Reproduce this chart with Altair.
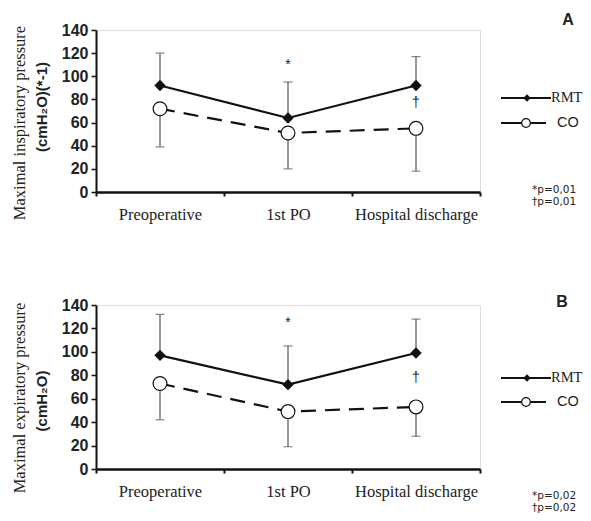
import altair as alt
import pandas as pd

categories = ["Preoperative", "1st PO", "Hospital discharge"]

a_rmt_mean = [92, 64, 92]
a_rmt_upper = [120, 95, 117]
a_co_mean = [72, 51, 55]
a_co_lower = [39, 20, 18]
a_star_y = 110
a_dagger_y = 77
a_title = ["Maximal inspiratory pressure", "(cmH\u2082O)(*-1)"]
a_pvals = ["*p=0,01", "\u2020p=0,01"]

b_rmt_mean = [97, 72, 99]
b_rmt_upper = [132, 105, 128]
b_co_mean = [73, 49, 53]
b_co_lower = [42, 19, 28]
b_star_y = 125
b_dagger_y = 78
b_title = ["Maximal expiratory pressure", "(cmH\u2082O)"]
b_pvals = ["*p=0,02", "\u2020p=0,02"]

y_ticks = [0, 20, 40, 60, 80, 100, 120, 140]

W = 384
SERIF = "Liberation Serif"
SANS = "Liberation Sans"


def panel(rmt_mean, rmt_upper, co_mean, co_lower, star_y, dagger_y, title, pvals, letter, geo, H):
    df = pd.DataFrame({
        "cat": categories,
        "rmt": rmt_mean, "rmt_hi": rmt_upper,
        "co": co_mean, "co_lo": co_lower,
    })
    one = pd.DataFrame({"k": [0]})
    x = alt.X("cat:N", sort=categories, title=None,
              scale=alt.Scale(paddingInner=0, paddingOuter=0),
              axis=alt.Axis(labelAngle=0, labelFont=SERIF, labelFontSize=16.5,
                            labelColor="#222", labelPadding=10, ticks=True,
                            tickBand="extent",
                            domainColor="#111", domainWidth=2.5, tickColor="#111",
                            tickWidth=2, tickSize=4, labelLimit=300))
    yscale = alt.Scale(domain=[0, 140], nice=False)
    yaxis = alt.Axis(values=y_ticks, title=None, grid=False,
                     labelOverlap=False, tickCount=8,
                     labelFont=SANS, labelFontWeight="bold", labelFontSize=16,
                     labelColor="#222", labelPadding=3, domainColor="#111",
                     domainWidth=2, tickColor="#111", tickWidth=1.5, tickSize=5)

    def Y(f):
        return alt.Y(f, scale=yscale, axis=yaxis)

    base = alt.Chart(df)
    err_rmt = base.mark_rule(color="#555", strokeWidth=1.2).encode(
        x=x, y=Y("rmt:Q"), y2="rmt_hi:Q")
    cap_rmt = base.mark_tick(color="#555", thickness=1.2, size=9).encode(
        x=x, y=Y("rmt_hi:Q"))
    err_co = base.mark_rule(color="#555", strokeWidth=1.2).encode(
        x=x, y=Y("co:Q"), y2="co_lo:Q")
    cap_co = base.mark_tick(color="#555", thickness=1.2, size=9).encode(
        x=x, y=Y("co_lo:Q"))
    line_co = base.mark_line(color="#111", strokeWidth=2.2, strokeDash=[15, 9]).encode(
        x=x, y=Y("co:Q"))
    pt_co = base.mark_point(shape="circle", filled=True, fill="white", stroke="#111",
                            strokeWidth=1.2, size=190, opacity=1).encode(
        x=x, y=Y("co:Q"))
    line_rmt = base.mark_line(color="#111", strokeWidth=2.2).encode(
        x=x, y=Y("rmt:Q"))
    pt_rmt = base.mark_point(shape="diamond", filled=True, color="#111",
                             size=130, opacity=1).encode(
        x=x, y=Y("rmt:Q"))
    marks_df = pd.DataFrame({"cat": [categories[1], categories[2]],
                             "v": [star_y, dagger_y], "s": ["*", "\u2020"]})
    sig = alt.Chart(marks_df).mark_text(font=SANS, fontSize=14, color="#222").encode(
        x=x, y=Y("v:Q"), text="s:N")

    ly_r, ly_c = geo["ly_r"], geo["ly_c"]
    o = alt.Chart(one)
    leg = [
        o.mark_rule(color="#111", strokeWidth=2).encode(
            x=alt.value(405), x2=alt.value(455), y=alt.value(ly_r)),
        o.mark_point(shape="diamond", filled=True, color="#111", size=55, opacity=1).encode(
            x=alt.value(431), y=alt.value(ly_r)),
        o.mark_text(text="RMT", font=SERIF, fontSize=14.5, align="left", color="#222").encode(
            x=alt.value(455), y=alt.value(ly_r)),
        o.mark_rule(color="#111", strokeWidth=2).encode(
            x=alt.value(405), x2=alt.value(450), y=alt.value(ly_c)),
        o.mark_point(shape="circle", filled=True, fill="white", stroke="#111",
                     strokeWidth=1.2, size=75, opacity=1).encode(
            x=alt.value(430), y=alt.value(ly_c)),
        o.mark_text(text="CO", font=SANS, fontSize=14.5, align="left", color="#222").encode(
            x=alt.value(461), y=alt.value(ly_c)),
        o.mark_text(text=letter, font=SANS, fontWeight="bold", fontSize=16, color="#222").encode(
            x=alt.value(geo["lx"]), y=alt.value(geo["ly"])),
        o.mark_text(text=pvals[0], font="DejaVu Sans", fontSize=10.5, align="left", color="#222").encode(
            x=alt.value(436), y=alt.value(geo["py"])),
        o.mark_text(text=pvals[1], font="DejaVu Sans", fontSize=10.5, align="left", color="#222").encode(
            x=alt.value(436), y=alt.value(geo["py"] + 11.5)),
        o.mark_text(text=title[0], font=SERIF, fontSize=16.5, angle=270, color="#222").encode(
            x=alt.value(-76), y=alt.value(geo["t1y"])),
        o.mark_text(text=title[1], font=SANS, fontWeight="bold", fontSize=15, angle=270,
                    color="#222").encode(
            x=alt.value(-54), y=alt.value(geo["t2y"])),
    ]
    return alt.layer(err_rmt, cap_rmt, err_co, cap_co, line_co, line_rmt, pt_co, pt_rmt,
                     sig, *leg).properties(width=W, height=H)


pa = panel(a_rmt_mean, a_rmt_upper, a_co_mean, a_co_lower, a_star_y, a_dagger_y,
           a_title, a_pvals, "A",
           {"ly_r": 68, "ly_c": 93, "lx": 472, "ly": -10, "py": 160, "t1y": 93, "t2y": 77}, 162)
pb = panel(b_rmt_mean, b_rmt_upper, b_co_mean, b_co_lower, b_star_y, b_dagger_y,
           b_title, b_pvals, "B",
           {"ly_r": 73, "ly_c": 97, "lx": 466, "ly": -3, "py": 191, "t1y": 93, "t2y": 96}, 164)

chart = alt.vconcat(pa, pb, spacing=70).properties(
    padding={"left": 3, "top": 3, "right": 0, "bottom": 0}
).configure_view(stroke=None).configure(background="white")

chart.save("out.html", embed_options={"renderer": "svg", "actions": False})
